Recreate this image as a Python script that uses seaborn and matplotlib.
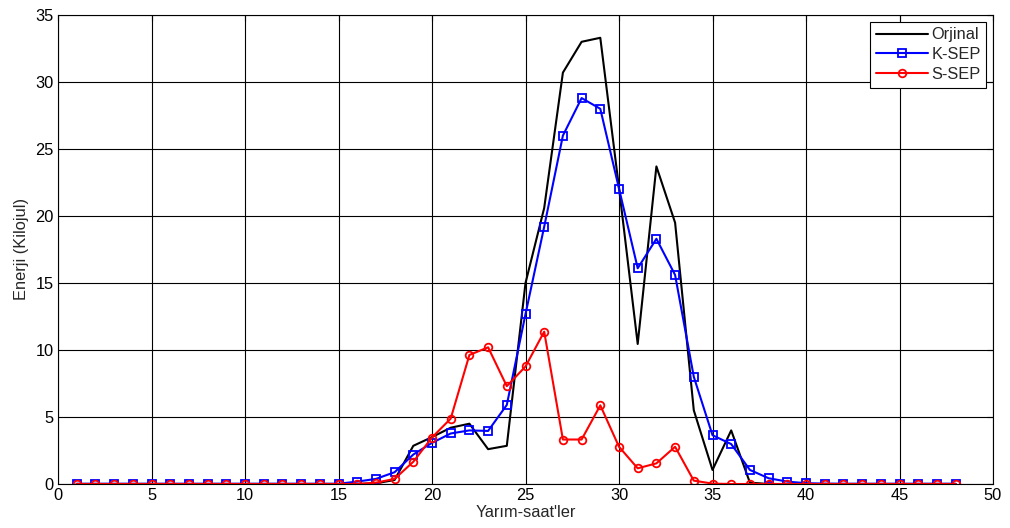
import numpy as np
import pandas as pd
import matplotlib
matplotlib.use("Agg")
import matplotlib.pyplot as plt
import seaborn as sns

# Half-hour slots 1..48
slots = list(range(1, 49))

orjinal = [0, 0, 0, 0, 0, 0, 0, 0, 0, 0,
           0, 0, 0, 0, 0, 0, 0.05, 0.3, 2.85, 3.5,
           4.2, 4.5, 2.6, 2.85, 15.0, 20.6, 30.7, 33.0, 33.3, 22.1,
           10.45, 23.7, 19.5, 5.5, 1.05, 4.0, 0.1, 0, 0, 0,
           0, 0, 0, 0, 0, 0, 0, 0]

k_sep = [0.02, 0.02, 0.02, 0.02, 0.02, 0.02, 0.02, 0.02, 0.02, 0.02,
         0.02, 0.02, 0.02, 0.02, 0.02, 0.18, 0.38, 0.88, 2.2, 3.07,
         3.77, 4.0, 3.96, 5.9, 12.68, 19.2, 26.0, 28.8, 28.0, 22.05,
         16.1, 18.3, 15.6, 8.0, 3.64, 2.98, 1.05, 0.43, 0.18, 0.06,
         0.03, 0.02, 0.02, 0.02, 0.02, 0.02, 0.02, 0.02]

s_sep = [0, 0, 0, 0, 0, 0, 0, 0, 0, 0,
         0, 0, 0, 0, 0, 0, 0.1, 0.38, 1.66, 3.47,
         4.88, 9.63, 10.2, 7.3, 8.77, 11.37, 3.32, 3.32, 5.87, 2.78,
         1.17, 1.54, 2.78, 0.25, 0.03, 0, 0, 0, 0, 0,
         0, 0, 0, 0, 0, 0, 0, 0]

x_ticks = [0, 5, 10, 15, 20, 25, 30, 35, 40, 45, 50]
y_ticks = [0, 5, 10, 15, 20, 25, 30, 35]

sns.set_style("white")
plt.rcParams["font.family"] = ["Liberation Sans", "DejaVu Sans"]
plt.rcParams["font.size"] = 11.8

fig = plt.figure(figsize=(10.1, 5.28), dpi=100)
ax = fig.add_axes([58 / 1010, 1 - 484 / 528, (993 - 58) / 1010, (484 - 15) / 528])

sns.lineplot(x=slots, y=orjinal, ax=ax, color="black", linewidth=1.5,
             label="Orjinal")
sns.lineplot(x=slots, y=k_sep, ax=ax, color="#0000ff", linewidth=1.5,
             marker="s", markersize=5.5, markerfacecolor="none",
             markeredgecolor="#0000ff", markeredgewidth=1.3, label="K-SEP")
sns.lineplot(x=slots, y=s_sep, ax=ax, color="#ff0000", linewidth=1.5,
             marker="o", markersize=5.5, markerfacecolor="none",
             markeredgecolor="#ff0000", markeredgewidth=1.3, label="S-SEP")

ax.set_xlim(0, 50)
ax.set_ylim(0, 35)
ax.set_xticks(x_ticks)
ax.set_yticks(y_ticks)
ax.grid(True, color="black", linewidth=0.8, linestyle="-")
ax.set_axisbelow(True)
for sp in ax.spines.values():
    sp.set_visible(True)
    sp.set_color("black")
    sp.set_linewidth(0.8)
ax.tick_params(direction="in", top=True, right=True, length=4, width=0.8,
               labelsize=11.8, colors="black", pad=3)

ax.set_xlabel("Yarım-saat'ler", fontsize=11.8, labelpad=1)
ax.set_ylabel("Enerji (Kilojul)", fontsize=11.8, labelpad=5)

leg = ax.legend(loc="upper right", frameon=True, fancybox=False,
                edgecolor="black", framealpha=1, fontsize=11.8,
                handlelength=3.2, borderaxespad=0.4, labelspacing=0.3,
                handletextpad=0.2, borderpad=0.35)
leg.get_frame().set_linewidth(0.8)
for h in leg.get_lines():
    h.set_markevery([1])

fig.savefig("out.png", dpi=100)
